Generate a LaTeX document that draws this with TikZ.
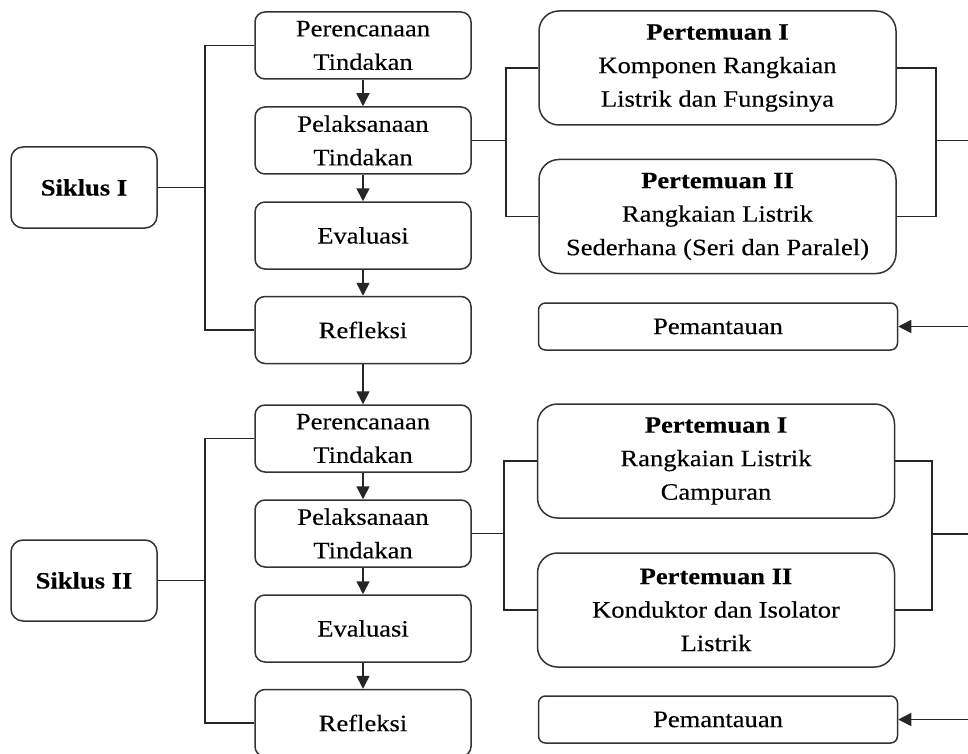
\documentclass[tikz,border=0pt]{standalone}
\usepackage{fontspec}
\setmainfont{Liberation Serif}[FakeStretch=1.13,FakeBold=0.25]
\usetikzlibrary{arrows.meta}
\begin{document}
\begin{tikzpicture}[x=1pt,y=-1pt,
 box/.style={draw=black!80, line width=1.5pt, rounded corners=10pt, inner sep=0pt, align=center, font=\fontsize{23.5}{33.5}\selectfont},
 mid/.style={box, minimum width=216pt, minimum height=67pt},
 big/.style={box, rounded corners=20pt, minimum width=357pt, minimum height=114pt},
 sik/.style={box, rounded corners=12pt, minimum width=146pt, minimum height=81pt, font=\fontsize{23.5}{33.5}\selectfont\bfseries},
 mon/.style={box, rounded corners=7pt, minimum width=359pt, minimum height=47pt},
 ln/.style={line width=1.6pt, draw=black!85},
 arr/.style={ln, -{Triangle[length=13pt,width=13pt]}}
]
\useasboundingbox (0,0) rectangle (968,754);
\fill[white] (0,0) rectangle (968,754);

% ---------- Siklus I ----------
\node[sik] (s1) at (84,187.5) {Siklus I};
\node[mid] (p1) at (363,45.5) {Perencanaan\\Tindakan};
\node[mid] (l1) at (363,140.5) {Pelaksanaan\\Tindakan};
\node[mid] (e1) at (363,235.5) {Evaluasi};
\node[mid] (r1) at (363,330) {Refleksi};
\node[big] (t1a) at (717.5,68) {\textbf{Pertemuan I}\\Komponen Rangkaian\\Listrik dan Fungsinya};
\node[big] (t1b) at (717.5,216.5) {\textbf{Pertemuan II}\\Rangkaian Listrik\\Sederhana (Seri dan Paralel)};
\node[mon] (m1) at (718,326.5) {Pemantauan};

% ---------- Siklus II ----------
\node[sik] (s2) at (84,580.5) {Siklus II};
\node[mid] (p2) at (363,438.5) {Perencanaan\\Tindakan};
\node[mid] (l2) at (363,533.5) {Pelaksanaan\\Tindakan};
\node[mid] (e2) at (363,628.5) {Evaluasi};
\node[mid] (r2) at (363,723) {Refleksi};
\node[big] (t2a) at (716,461) {\textbf{Pertemuan I}\\Rangkaian Listrik\\Campuran};
\node[big] (t2b) at (716,610) {\textbf{Pertemuan II}\\Konduktor dan Isolator\\Listrik};
\node[mon] (m2) at (718,719.5) {Pemantauan};

% helper coordinates
\coordinate (kx) at (205,0);
\coordinate (mx1) at (506,0);
\coordinate (mx2) at (504,0);
\coordinate (rx1) at (936,0);
\coordinate (rx2) at (932,0);
\coordinate (in1) at (968,140.5);
\coordinate (in2) at (968,534);
\coordinate (min1) at (968,326.5);
\coordinate (min2) at (968,719.5);

% ---------- connectors, cycle I ----------
\draw[ln] (p1.west) -| (kx |- r1.west) -- (r1.west);
\draw[ln] (s1.east) -- (s1.east -| kx);
\draw[arr] (p1.south) -- (l1.north);
\draw[arr] (l1.south) -- (e1.north);
\draw[arr] (e1.south) -- (r1.north);
\draw[arr] (r1.south) -- (p2.north);
\draw[ln] (t1a.west) -| (mx1 |- t1b.west) -- (t1b.west);
\draw[ln] (l1.east) -- (l1.east -| mx1);
\draw[ln] (t1a.east) -| (rx1 |- t1b.east) -- (t1b.east);
\draw[ln] (in1) -- (in1 -| rx1);
\draw[arr] (min1) -- (m1.east);

% ---------- connectors, cycle II ----------
\draw[ln] (p2.west) -| (kx |- r2.west) -- (r2.west);
\draw[ln] (s2.east) -- (s2.east -| kx);
\draw[arr] (p2.south) -- (l2.north);
\draw[arr] (l2.south) -- (e2.north);
\draw[arr] (e2.south) -- (r2.north);
\draw[ln] (t2a.west) -| (mx2 |- t2b.west) -- (t2b.west);
\draw[ln] (l2.east) -- (l2.east -| mx2);
\draw[ln] (t2a.east) -| (rx2 |- t2b.east) -- (t2b.east);
\draw[ln] (in2) -- (in2 -| rx2);
\draw[arr] (min2) -- (m2.east);
\end{tikzpicture}
\end{document}
